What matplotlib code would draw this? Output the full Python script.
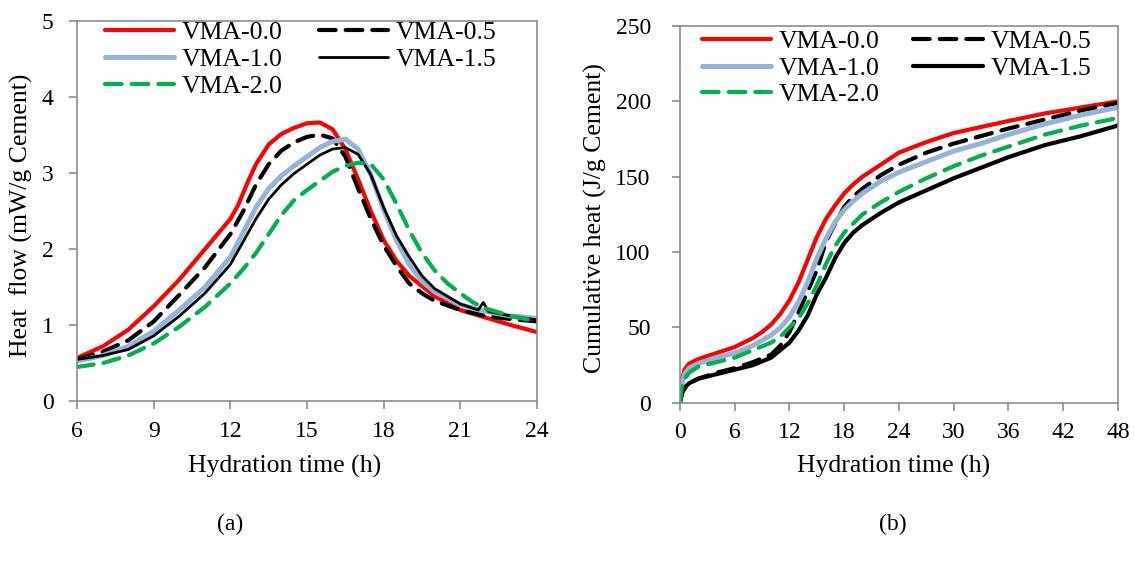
import matplotlib.pyplot as plt
import numpy as np

plt.rcParams['font.family'] = ['Liberation Serif', 'DejaVu Serif']

labels = ['VMA-0.0', 'VMA-0.5', 'VMA-1.0', 'VMA-1.5', 'VMA-2.0']

# (a) heat flow, mW/g cement
t_red = [6, 7, 8, 9, 10, 11, 12, 12.3, 12.7, 13, 13.5, 14, 14.5, 15, 15.5, 16, 16.5, 17, 17.5, 18, 18.5, 19, 20, 21, 22, 23, 24]
q_red = [0.57, 0.72, 0.94, 1.25, 1.6, 2.0, 2.4, 2.58, 2.9, 3.12, 3.38, 3.52, 3.6, 3.66, 3.67, 3.58, 3.32, 2.92, 2.5, 2.12, 1.85, 1.65, 1.38, 1.2, 1.1, 1.0, 0.91]

t_k05 = [6, 7, 8, 9, 10, 11, 12, 12.5, 13, 13.5, 14, 14.5, 15, 15.5, 16, 16.5, 17, 17.5, 18, 18.5, 19, 19.5, 20, 21, 22, 23, 24]
q_k05 = [0.55, 0.65, 0.8, 1.05, 1.4, 1.76, 2.2, 2.5, 2.85, 3.12, 3.3, 3.41, 3.48, 3.51, 3.46, 3.22, 2.8, 2.4, 2.05, 1.78, 1.55, 1.42, 1.32, 1.2, 1.12, 1.08, 1.05]

t_blue = [6, 7, 8, 9, 10, 11, 12, 12.5, 13, 13.5, 14, 14.5, 15, 15.5, 16, 16.5, 17, 17.5, 18, 18.5, 19, 19.5, 20, 21, 22, 23, 24]
q_blue = [0.53, 0.6, 0.72, 0.92, 1.2, 1.5, 1.9, 2.22, 2.55, 2.8, 2.97, 3.1, 3.22, 3.34, 3.42, 3.45, 3.32, 2.98, 2.52, 2.12, 1.8, 1.58, 1.44, 1.27, 1.18, 1.12, 1.09]

t_k15 = [6, 7, 8, 9, 10, 11, 12, 12.5, 13, 13.5, 14, 14.5, 15, 15.5, 16, 16.5, 17, 17.5, 18, 18.5, 19, 19.5, 20, 21, 21.7, 21.9, 22.1, 23, 24]
q_k15 = [0.55, 0.6, 0.68, 0.86, 1.12, 1.42, 1.8, 2.1, 2.4, 2.66, 2.85, 3.0, 3.12, 3.24, 3.32, 3.34, 3.25, 2.98, 2.55, 2.18, 1.9, 1.65, 1.48, 1.28, 1.2, 1.3, 1.18, 1.12, 1.07]

t_green = [6, 7, 8, 9, 10, 11, 12, 12.5, 13, 13.5, 14, 14.5, 15, 15.5, 16, 16.5, 17, 17.5, 18, 18.5, 19, 19.5, 20, 20.5, 21, 21.5, 22, 23, 24]
q_green = [0.45, 0.5, 0.6, 0.76, 0.98, 1.24, 1.55, 1.74, 1.95, 2.2, 2.45, 2.65, 2.78, 2.9, 3.02, 3.1, 3.14, 3.12, 2.92, 2.6, 2.25, 1.95, 1.72, 1.55, 1.42, 1.3, 1.22, 1.12, 1.05]

# (b) cumulative heat, J/g cement
h_red = [0, 0.2, 0.5, 1, 2, 4, 6, 8, 9, 10, 11, 12, 13, 14, 15, 16, 17, 18, 19, 20, 22, 24, 27, 30, 33, 36, 40, 44, 48]
c_red = [0, 15, 22, 26, 29, 33, 37, 43, 47, 52, 59, 68, 80, 95, 110, 122, 131, 139, 145, 150, 158, 166, 173, 179, 183, 187, 192, 196, 200]

h_k05 = [0, 0.3, 1, 2, 4, 6, 8, 10, 11, 12, 13, 14, 15, 16, 17, 18, 19, 20, 22, 24, 27, 30, 33, 36, 40, 44, 48]
c_k05 = [0, 8, 13, 16, 20, 23, 27, 32, 38, 47, 60, 74, 88, 107, 119, 130, 137, 142, 151, 158, 166, 172, 177, 182, 188, 194, 199]

h_blue = [0, 0.2, 0.5, 1, 2, 4, 6, 8, 10, 11, 12, 13, 14, 15, 16, 17, 18, 19, 20, 22, 24, 27, 30, 33, 36, 40, 44, 48]
c_blue = [0, 12, 19, 23, 26, 30, 33, 38, 45, 50, 57, 67, 80, 96, 109, 120, 128, 134, 139, 147, 153, 160, 167, 172, 178, 185, 191, 196]

h_k15 = [0, 0.2, 0.5, 1, 2, 4, 6, 8, 10, 11, 12, 13, 14, 15, 16, 17, 18, 19, 20, 22, 24, 27, 30, 33, 36, 40, 44, 48]
c_k15 = [0, 6, 10, 13, 16, 19, 22, 25, 30, 35, 40, 48, 58, 72, 83, 96, 106, 113, 118, 126, 133, 141, 149, 156, 163, 171, 177, 184]

h_green = [0, 0.2, 0.5, 1, 2, 4, 6, 8, 10, 11, 12, 13, 14, 15, 16, 17, 18, 19, 20, 22, 24, 27, 30, 33, 36, 40, 44, 48]
c_green = [0, 10, 16, 20, 24, 27, 30, 35, 40, 44, 50, 56, 66, 78, 92, 104, 113, 119, 125, 133, 140, 149, 157, 164, 170, 178, 184, 189]

RED = '#ff0000'
BLUE = '#95b3d7'
GREEN = '#00b050'
GREY = '#8c8c8c'

fig = plt.figure(figsize=(11.34, 5.65), dpi=100)
ax1 = fig.add_axes([0.068, 0.290, 0.4055, 0.672])
ax2 = fig.add_axes([0.5996, 0.287, 0.3863, 0.667])


def draw(ax, xs, ys, k15_lw, anchor, colsp, ypad):
    lines = []
    lines += ax.plot(xs[0], ys[0], color=RED, lw=3.0, solid_capstyle='round', solid_joinstyle='round')
    lines += ax.plot(xs[1], ys[1], color='black', lw=3.0, dashes=(4, 2.4), dash_capstyle='round')
    lines += ax.plot(xs[2], ys[2], color=BLUE, lw=3.6, solid_capstyle='round', solid_joinstyle='round')
    lines += ax.plot(xs[3], ys[3], color='black', lw=k15_lw, solid_capstyle='round', solid_joinstyle='round')
    lines += ax.plot(xs[4], ys[4], color=GREEN, lw=3.0, dashes=(4, 2.4), dash_capstyle='round')
    # column-major fill -> rows: 0.0 / 0.5, 1.0 / 1.5, 2.0
    order = [0, 2, 4, 1, 3]
    ax.legend([lines[i] for i in order], [labels[i] for i in order], ncol=2,
              loc='upper left', bbox_to_anchor=anchor, frameon=False,
              fontsize=18.5, handlelength=2.7, handletextpad=0.3,
              columnspacing=colsp, labelspacing=0.15, borderaxespad=0.0,
              borderpad=0.0)
    for sp in ax.spines.values():
        sp.set_color(GREY)
        sp.set_linewidth(1.2)
    ax.tick_params(direction='out', color=GREY, width=1.2, length=6, labelsize=17)
    ax.tick_params(axis='x', pad=8)
    ax.tick_params(axis='y', pad=ypad)


draw(ax1, [t_red, t_k05, t_blue, t_k15, t_green], [q_red, q_k05, q_blue, q_k15, q_green],
     2.0, (0.06, 1.0), 1.4, 11)
ax1.set_xlim(6, 24)
ax1.set_ylim(0, 5)
ax1.set_xticks(np.arange(6, 25, 3))
ax1.set_yticks(np.arange(0, 6, 1))
ax1.set_xlabel('Hydration time (h)', fontsize=18.5)
ax1.set_ylabel('Heat  flow (mW/g Cement)', fontsize=18.5)
ax1.xaxis.set_label_coords(0.452, -0.142)
ax1.yaxis.set_label_coords(-0.096, 0.49)

draw(ax2, [h_red, h_k05, h_blue, h_k15, h_green], [c_red, c_k05, c_blue, c_k15, c_green],
     3.0, (0.05, 0.99), 1.3, 15)
ax2.set_xlim(0, 48)
ax2.set_ylim(0, 250)
ax2.set_xticks(np.arange(0, 49, 6))
ax2.set_yticks(np.arange(0, 251, 50))
ax2.set_xlabel('Hydration time (h)', fontsize=18.5)
ax2.set_ylabel('Cumulative heat (J/g Cement)', fontsize=18.5)
ax2.xaxis.set_label_coords(0.487, -0.138)
ax2.yaxis.set_label_coords(-0.167, 0.49)

fig.text(230 / 1134, 1 - 524 / 565, '(a)', fontsize=17, ha='center', va='center')
fig.text(893 / 1134, 1 - 524 / 565, '(b)', fontsize=17, ha='center', va='center')

fig.savefig('out.png', dpi=100)
